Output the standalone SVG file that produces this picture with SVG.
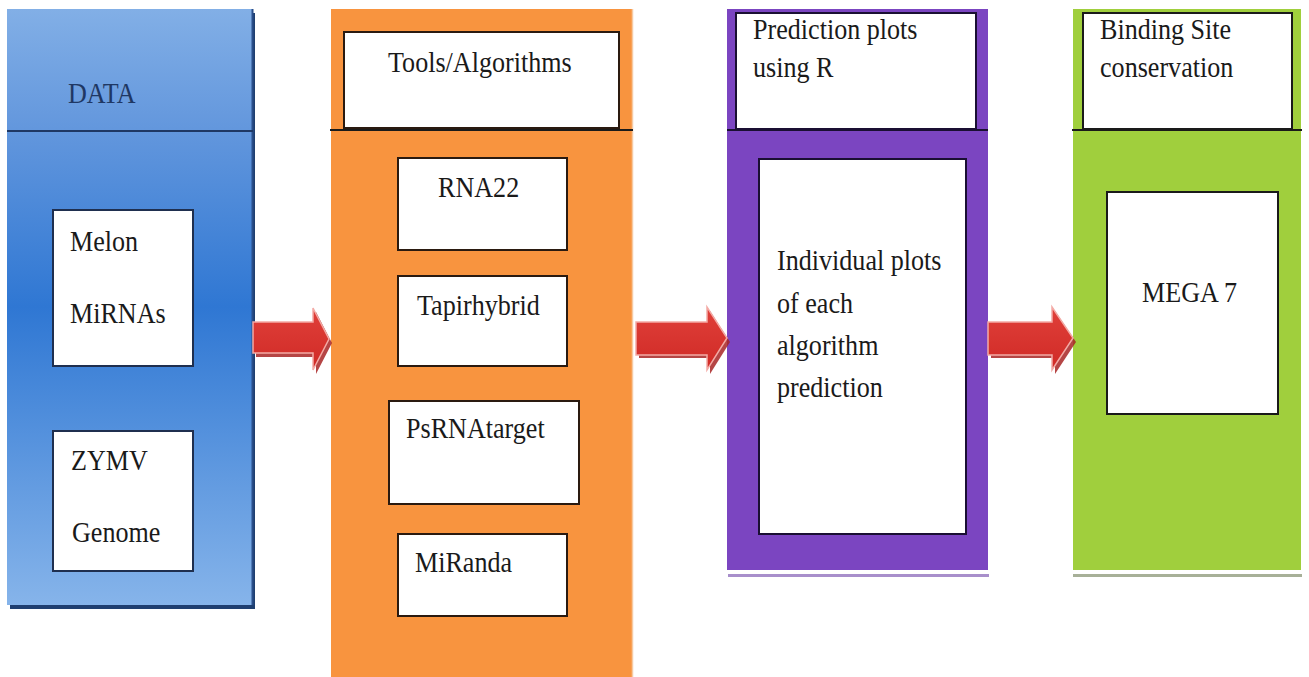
<svg xmlns="http://www.w3.org/2000/svg" width="1309" height="677" viewBox="0 0 1309 677">
<defs>
<linearGradient id="blueGrad" x1="0" y1="0" x2="0" y2="1">
<stop offset="0" stop-color="#82afe6"/>
<stop offset="0.2" stop-color="#6397dd"/>
<stop offset="0.5" stop-color="#2f77d3"/>
<stop offset="1" stop-color="#86b4ea"/>
</linearGradient>
<linearGradient id="redGrad" x1="0" y1="0" x2="0" y2="1">
<stop offset="0" stop-color="#e0403a"/>
<stop offset="1" stop-color="#d02a26"/>
</linearGradient>
<style>
text{font-family:"Liberation Serif","DejaVu Serif",serif;font-size:29px;fill:#1a1a1a}
.box{fill:#ffffff;stroke:#1a1a1a;stroke-width:2}
.div{stroke:#1a1a1a;stroke-width:2}
.shadow{fill:#a82424;opacity:0.85}
.arrow{fill:url(#redGrad);stroke:#f3aaa5;stroke-width:1.5}
</style>
</defs>
<rect width="1309" height="677" fill="#ffffff"/>

<g id="col-data">
<rect x="10" y="13" width="245" height="596" fill="#1f3f70"/>
<rect x="7" y="9" width="246" height="596" fill="url(#blueGrad)"/>
<line x1="252.5" y1="9" x2="252.5" y2="605" stroke="#2a4f8a" stroke-width="2"/>
<line x1="7" y1="131" x2="253" y2="131" stroke="#1f3864" stroke-width="2"/>
<text transform="translate(68,103) scale(0.9,1)" style="fill:#1f3864">DATA</text>
</g>
<g id="node-melon">
<rect class="box" x="53" y="210" width="140" height="156" style="stroke:#1f2f4f"/>
<text transform="translate(70,251) scale(0.9,1)">Melon</text>
<text transform="translate(70,323) scale(0.9,1)">MiRNAs</text>
</g>
<g id="node-zymv">
<rect class="box" x="53" y="431" width="140" height="140" style="stroke:#1f2f4f"/>
<text transform="translate(71,470) scale(0.9,1)">ZYMV</text>
<text transform="translate(72,542) scale(0.9,1)">Genome</text>
</g>

<g id="col-tools">
<rect x="331" y="9" width="302" height="668" fill="#f8943f"/>
<line x1="632.5" y1="9" x2="632.5" y2="677" stroke="#f6c9a2" stroke-width="1.5"/>
<rect class="box" x="344" y="32" width="275" height="96" style="stroke:#2a1a10"/>
<line class="div" x1="330" y1="130" x2="633" y2="130"/>
<text transform="translate(388,72) scale(0.9,1)">Tools/Algorithms</text>
</g>
<g id="node-rna22">
<rect class="box" x="398" y="158" width="169" height="92" style="stroke:#2a1a10"/>
<text transform="translate(438,197) scale(0.9,1)">RNA22</text>
</g>
<g id="node-tapirhybrid">
<rect class="box" x="398" y="276" width="169" height="90" style="stroke:#2a1a10"/>
<text transform="translate(417,315) scale(0.9,1)">Tapirhybrid</text>
</g>
<g id="node-psrnatarget">
<rect class="box" x="389" y="401" width="190" height="103" style="stroke:#2a1a10"/>
<text transform="translate(406,438) scale(0.9,1)">PsRNAtarget</text>
</g>
<g id="node-miranda">
<rect class="box" x="398" y="534" width="169" height="82" style="stroke:#2a1a10"/>
<text transform="translate(415,572) scale(0.9,1)">MiRanda</text>
</g>

<g id="col-prediction">
<rect x="727" y="9" width="261" height="561" fill="#7b45c1"/>
<rect x="728" y="574" width="261" height="3" fill="#a88fcb"/>
<rect class="box" x="736" y="13" width="240" height="116" style="stroke:#1a0f33"/>
<line class="div" x1="727" y1="130" x2="988" y2="130" style="stroke:#1a0f33"/>
<text transform="translate(753,39) scale(0.9,1)">Prediction plots</text>
<text transform="translate(753,77) scale(0.9,1)">using R</text>
</g>
<g id="node-individual">
<rect class="box" x="759" y="159" width="207" height="375" style="stroke:#1a0f33"/>
<text transform="translate(777,270) scale(0.9,1)">Individual plots</text>
<text transform="translate(777,313) scale(0.9,1)">of each</text>
<text transform="translate(777,355) scale(0.9,1)">algorithm</text>
<text transform="translate(777,397) scale(0.9,1)">prediction</text>
</g>

<g id="col-binding">
<rect x="1073" y="9" width="228" height="561" fill="#a0cf3d"/>
<rect x="1073" y="574" width="229" height="3" fill="#a7b098"/>
<rect class="box" x="1083" y="13" width="209" height="116"/>
<line class="div" x1="1072" y1="130" x2="1302" y2="130"/>
<text transform="translate(1100,39) scale(0.9,1)">Binding Site</text>
<text transform="translate(1100,77) scale(0.9,1)">conservation</text>
</g>
<g id="node-mega">
<rect class="box" x="1107" y="192" width="171" height="222"/>
<text transform="translate(1142,302) scale(0.9,1)">MEGA 7</text>
</g>

<g id="connectors">
<polygon class="shadow" points="256,326 316,326 316,312 332,343 316,374 316,357 256,357"/>
<polygon class="arrow" points="253,322 313,322 313,308 329,339 313,370 313,353 253,353"/>
<polygon class="shadow" points="639,326 710,326 710,311 730,342 710,374 710,358 639,358"/>
<polygon class="arrow" points="636,322 707,322 707,307 727,338 707,370 707,355 636,355"/>
<polygon class="shadow" points="991,326 1055,326 1055,311 1076,342 1055,374 1055,358 991,358"/>
<polygon class="arrow" points="988,322 1052,322 1052,307 1073,338 1052,370 1052,355 988,355"/>
</g>
</svg>
